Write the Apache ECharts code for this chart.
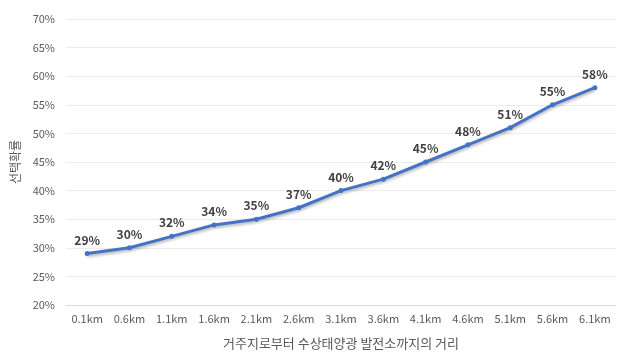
<!DOCTYPE html>
<html>
<head>
<meta charset="utf-8">
<script src="https://cdn.jsdelivr.net/npm/echarts@6/dist/echarts.min.js"></script>
<style>
  html, body { margin: 0; padding: 0; background: #fff; }
  #chart { width: 617px; height: 353px; }
</style>
</head>
<body>
<div id="chart"></div>
<script>
const categories = ['0.1km', '0.6km', '1.1km', '1.6km', '2.1km', '2.6km', '3.1km', '3.6km', '4.1km', '4.6km', '5.1km', '5.6km', '6.1km'];
const choiceProb = [29, 30, 32, 34, 35, 37, 40, 42, 45, 48, 51, 55, 58];
const yTicks = { min: 20, max: 70, step: 5 };

const font = '"Noto Sans CJK KR", "Open Sans", sans-serif';
const textColor = '#595959';

const chart = echarts.init(document.getElementById('chart'));

chart.setOption({
    animation: false,
    textStyle: { fontFamily: font },
    grid: { left: 66, right: 1, top: 19, bottom: 48, outerBoundsMode: 'none' },
    xAxis: {
        type: 'category',
        data: categories,
        name: '거주지로부터 수상태양광 발전소까지의 거리',
        nameLocation: 'middle',
        nameGap: 32,
        nameTextStyle: { color: textColor, fontSize: 13, fontFamily: font },
        axisLine: { lineStyle: { color: '#d9d9d9' } },
        axisTick: { show: false },
        axisLabel: { color: textColor, fontSize: 11, margin: 8, fontFamily: font },
    },
    yAxis: {
        type: 'value',
        min: yTicks.min,
        max: yTicks.max,
        interval: yTicks.step,
        name: '선택확률',
        nameLocation: 'middle',
        nameGap: 42,
        nameRotate: 90,
        nameTextStyle: { color: textColor, fontSize: 12, fontFamily: font },
        axisLine: { show: false },
        axisTick: { show: false },
        axisLabel: {
            color: textColor,
            fontSize: 11,
            margin: 11,
            formatter: (v) => v + '%',
            fontFamily: font,
        },
        splitLine: { lineStyle: { color: '#ececec' } },
    },
    series: [{
        type: 'line',
        data: choiceProb,
        symbol: 'circle',
        symbolSize: 5,
        itemStyle: { color: '#4472c4' },
        lineStyle: {
            width: 3,
            color: '#4472c4',
            shadowColor: 'rgba(0,0,0,0.3)',
            shadowBlur: 3,
            shadowOffsetY: 2,
        },
        label: {
            show: true,
            position: 'top',
            distance: 5,
            formatter: (p) => p.value + '%',
            color: '#404040',
            fontWeight: 'bold',
            fontSize: 12,
            fontFamily: font,
        },
    }],
});
</script>
</body>
</html>
